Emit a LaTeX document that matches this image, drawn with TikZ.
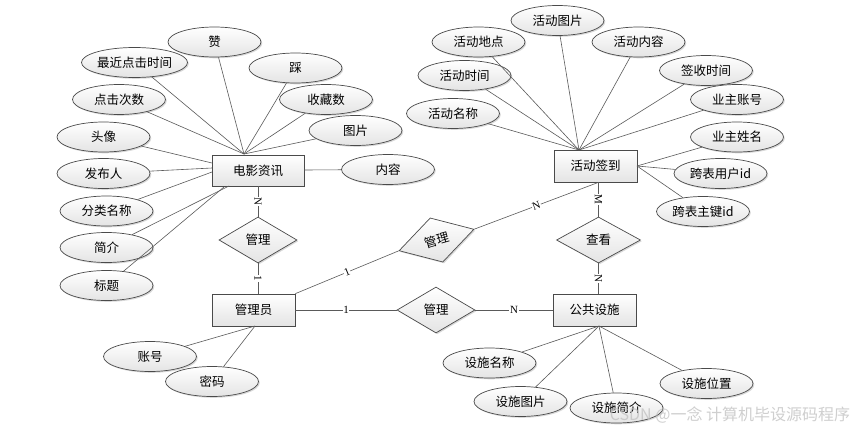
\documentclass[tikz,border=0pt]{standalone}
\usepackage{fontspec}
\setmainfont{Noto Sans CJK SC}
\newfontfamily\lblfont{Liberation Serif}
\usetikzlibrary{shapes.geometric,shadows}
\definecolor{bordc}{HTML}{4A4A4A}
\definecolor{linec}{HTML}{5A5A5A}
\definecolor{shadec}{HTML}{E4E4E4}
\begin{document}
\begin{tikzpicture}[x=1pt,y=-1pt,
  base/.style={draw=bordc, line width=0.7pt, inner sep=0pt, top color=white, bottom color=shadec,
    drop shadow={shadow xshift=1.3pt,shadow yshift=-1.3pt,opacity=0.3},
    font=\fontsize{12.5}{14}\selectfont},
  attr/.style={base, ellipse, minimum width=93pt, minimum height=30pt},
  ent/.style={base, rectangle, minimum width=83pt, minimum height=32pt},
  rel/.style={base, diamond, minimum width=78pt, minimum height=46pt},
  conn/.style={draw=linec, line width=0.6pt},
  card/.style={fill=white, inner sep=0.6pt, font=\lblfont\fontsize{11}{12}\selectfont}]
\useasboundingbox (0,0) rectangle (860,431);
\fill[white] (0,0) rectangle (860,431);

% entities
\node[ent, minimum width=92pt, minimum height=31pt] (m) at (258,170.5) {电影资讯};
\node[ent] (ad) at (253.5,310) {管理员};
\node[ent] (hd) at (595.5,166) {活动签到};
\node[ent] (gg) at (594.5,310) {公共设施};

% relations
\node[rel] (r1) at (258,240) {管理};
\node[rel, rotate=16] (r2) at (436.5,240) {管理};
\node[rel] (r3) at (436,310) {管理};
\node[rel, minimum width=84pt] (r4) at (598.5,240) {查看};

% attributes of 电影资讯
\node[attr] (a1) at (214.5,42) {赞};
\node[attr] (a2) at (134.5,62.5) {最近点击时间};
\node[attr] (a3) at (295.5,68) {踩};
\node[attr] (a4) at (119,99.5) {点击次数};
\node[attr] (a5) at (326,99.5) {收藏数};
\node[attr] (a6) at (355.5,130.5) {图片};
\node[attr] (a7) at (103.5,137) {头像};
\node[attr] (a8) at (103.5,173.5) {发布人};
\node[attr] (a9) at (388,169.5) {内容};
\node[attr] (a10) at (106.5,211) {分类名称};
\node[attr] (a11) at (106.5,247.5) {简介};
\node[attr] (a12) at (106.5,285.5) {标题};

% attributes of 管理员
\node[attr] (b1) at (150,356.5) {账号};
\node[attr] (b2) at (212,381.5) {密码};

% attributes of 活动签到
\node[attr] (c1) at (557.5,20.5) {活动图片};
\node[attr] (c2) at (478.5,42) {活动地点};
\node[attr] (c3) at (638.5,42) {活动内容};
\node[attr] (c4) at (464.5,75.5) {活动时间};
\node[attr] (c5) at (706,70.5) {签收时间};
\node[attr] (c6) at (453,113.5) {活动名称};
\node[attr] (c7) at (737,99.5) {业主账号};
\node[attr] (c8) at (737,137) {业主姓名};
\node[attr] (c9) at (720.5,173.5) {跨表用户id};
\node[attr] (c10) at (703,211.5) {跨表主键id};

% attributes of 公共设施
\node[attr] (d1) at (489.5,363) {设施名称};
\node[attr] (d2) at (520.5,401.5) {设施图片};
\node[attr] (d3) at (616.5,408) {设施简介};
\node[attr] (d4) at (706.5,383.5) {设施位置};

% anchor points
\coordinate (mt) at (244,154);
\coordinate (ml1) at (212,163);
\coordinate (ml2) at (212,168);
\coordinate (ml3) at (212,172);
\coordinate (mb1) at (229,186);
\coordinate (mb2) at (224,187);
\coordinate (mr) at (304,170);
\coordinate (ht) at (579,150);
\coordinate (hr) at (637,166);
\coordinate (adb) at (255,326);
\coordinate (ggb) at (599,326);

\foreach \a in {a1,a2,a3,a4,a5,a6} \draw[conn] (\a) -- (mt);
\draw[conn] (a7) -- (ml1);
\draw[conn] (a8) -- (ml2);
\draw[conn] (a10) -- (ml3);
\draw[conn] (a11) -- (mb1);
\draw[conn] (a12) -- (mb2);
\draw[conn] (a9) -- (mr);
\draw[conn] (b1) -- (adb);
\draw[conn] (b2) -- (adb);
\foreach \a in {c1,c2,c3,c4,c5,c6,c7} \draw[conn] (\a) -- (ht);
\foreach \a in {c8,c9,c10} \draw[conn] (\a) -- (hr);
\foreach \a in {d1,d2,d3,d4} \draw[conn] (\a) -- (ggb);

% relationship connectors
\draw[conn] (m.south -| r1.north) -- node[card, rotate=-90] {N} (r1.north);
\draw[conn] (r1.south) -- node[card, rotate=-90] {1} (r1.south |- ad.north);
\draw[conn] (ad.north east) -- node[card, sloped] {1} (r2.west);
\draw[conn] (r2.east) -- node[card, sloped] {N} (r4.north |- hd.south);
\draw[conn] (ad.east) -- node[card] {1} (r3.west);
\draw[conn] (r3.east) -- node[card] {N} (gg.west);
\draw[conn] (r4.north |- hd.south) -- node[card, rotate=-90] {M} (r4.north);
\draw[conn] (r4.south) -- node[card, rotate=-90] {N} (r4.south |- gg.north);

% watermark
\node[text=gray!50, opacity=0.75, font=\fontsize{16}{18}\selectfont, inner sep=0pt] (wm) at (730,415) {CSDN @一念 计算机毕设源码程序};
\end{tikzpicture}
\end{document}
